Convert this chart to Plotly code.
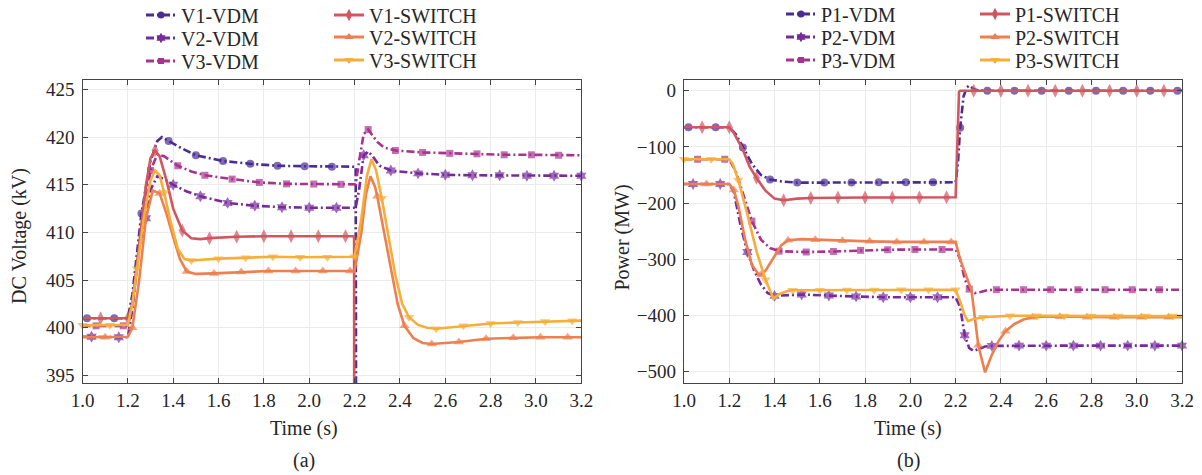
import numpy as np
import plotly.graph_objects as go

# ---------------- data ----------------
# (a) DC voltage, kV
v1_vdm_t = [1.00, 1.02, 1.14, 1.20, 1.22, 1.26, 1.30, 1.33, 1.35, 1.38, 1.44, 1.50, 1.62, 1.74, 1.86, 1.98, 2.10, 2.205, 2.212]
v1_vdm_v = [401.0, 401.0, 401.0, 401.0, 403.5, 412.0, 417.5, 419.6, 420.0, 419.6, 418.8, 418.1, 417.5, 417.2, 417.0, 416.95, 416.9, 416.9, 300.0]

v2_vdm_t = [1.00, 1.04, 1.16, 1.20, 1.22, 1.25, 1.28, 1.30, 1.33, 1.36, 1.40, 1.46, 1.52, 1.64, 1.76, 1.88, 2.00, 2.12, 2.205, 2.22, 2.24, 2.26, 2.28, 2.31, 2.36, 2.48, 2.60, 2.72, 2.84, 2.96, 3.08, 3.20]
v2_vdm_v = [399.05, 399.05, 399.0, 399.0, 402.0, 408.5, 411.5, 414.5, 415.9, 415.6, 415.0, 414.3, 413.8, 413.1, 412.8, 412.65, 412.6, 412.6, 412.6, 414.5, 418.1, 418.5, 418.0, 417.0, 416.5, 416.2, 416.05, 416.0, 416.0, 415.95, 415.95, 415.95]

v3_vdm_t = [1.00, 1.06, 1.18, 1.20, 1.22, 1.26, 1.30, 1.33, 1.36, 1.42, 1.48, 1.54, 1.66, 1.78, 1.90, 2.02, 2.14, 2.205, 2.22, 2.24, 2.26, 2.28, 2.30, 2.33, 2.38, 2.50, 2.62, 2.74, 2.86, 2.98, 3.10, 3.20]
v3_vdm_v = [400.2, 400.2, 400.2, 400.2, 402.5, 410.0, 416.5, 418.2, 418.0, 417.0, 416.4, 416.0, 415.6, 415.25, 415.1, 415.08, 415.05, 415.05, 417.5, 420.3, 420.8, 420.2, 419.5, 418.9, 418.6, 418.4, 418.3, 418.25, 418.15, 418.15, 418.1, 418.1]

v1_sw_t = [1.00, 1.08, 1.20, 1.22, 1.25, 1.28, 1.30, 1.32, 1.34, 1.37, 1.40, 1.44, 1.48, 1.52, 1.56, 1.68, 1.80, 1.92, 2.04, 2.16, 2.198, 2.200]
v1_sw_v = [401.0, 401.0, 401.0, 402.5, 409.0, 415.0, 417.8, 418.6, 418.0, 415.5, 412.5, 410.2, 409.4, 409.3, 409.4, 409.55, 409.6, 409.6, 409.6, 409.6, 409.6, 300.0]

v2_sw_t = [1.00, 1.10, 1.20, 1.22, 1.25, 1.28, 1.31, 1.34, 1.37, 1.40, 1.43, 1.46, 1.50, 1.58, 1.70, 1.82, 1.94, 2.06, 2.18, 2.20, 2.23, 2.25, 2.27, 2.29, 2.30, 2.33, 2.36, 2.39, 2.42, 2.46, 2.50, 2.54, 2.60, 2.66, 2.78, 2.90, 3.02, 3.14, 3.20]
v2_sw_v = [399.0, 399.0, 399.05, 400.0, 405.0, 411.5, 414.4, 414.1, 412.0, 409.5, 407.2, 405.9, 405.65, 405.7, 405.85, 405.95, 405.95, 405.95, 405.95, 405.95, 410.0, 414.0, 415.9, 414.8, 413.8, 410.0, 406.0, 402.5, 400.2, 398.9, 398.4, 398.3, 398.4, 398.5, 398.85, 398.95, 399.0, 399.0, 399.0]

v3_sw_t = [1.00, 1.12, 1.20, 1.22, 1.24, 1.27, 1.30, 1.32, 1.34, 1.36, 1.39, 1.42, 1.45, 1.48, 1.60, 1.72, 1.84, 1.96, 2.08, 2.20, 2.23, 2.255, 2.275, 2.295, 2.32, 2.35, 2.38, 2.41, 2.44, 2.48, 2.52, 2.56, 2.60, 2.68, 2.80, 2.92, 3.04, 3.16, 3.20]
v3_sw_v = [400.25, 400.25, 400.3, 402.5, 406.2, 411.5, 415.5, 416.5, 416.0, 414.2, 411.0, 408.3, 407.2, 407.05, 407.25, 407.35, 407.45, 407.4, 407.4, 407.45, 411.5, 416.0, 417.7, 416.5, 413.6, 409.5, 405.5, 402.5, 401.1, 400.3, 400.0, 399.9, 400.0, 400.2, 400.45, 400.55, 400.65, 400.73, 400.75]

# (b) Power, MW
p1_vdm_t = [1.00, 1.02, 1.14, 1.20, 1.23, 1.26, 1.30, 1.34, 1.38, 1.44, 1.50, 1.62, 1.74, 1.86, 1.98, 2.10, 2.20, 2.21, 2.22, 2.235, 2.25, 2.26, 2.28, 2.30, 2.34, 2.46, 2.58, 2.70, 2.82, 2.94, 3.06, 3.18, 3.20]
p1_vdm_v = [-65, -65, -65, -65, -78, -101, -130, -150, -158, -162, -163.5, -163.5, -163.5, -163, -163, -163, -163, -130, -66, -10, 6, 9, 3, 0.5, 0, 0, 0, 0, 0, 0, 0, 0, 0]

p2_vdm_t = [1.00, 1.04, 1.16, 1.20, 1.22, 1.25, 1.28, 1.31, 1.34, 1.37, 1.40, 1.46, 1.52, 1.64, 1.76, 1.88, 2.00, 2.12, 2.20, 2.22, 2.24, 2.26, 2.28, 2.30, 2.33, 2.36, 2.48, 2.60, 2.72, 2.84, 2.96, 3.08, 3.20]
p2_vdm_v = [-166, -166, -166, -166, -180, -240, -287, -320, -345, -360, -365, -364, -362.5, -364.5, -366, -367.5, -367.5, -367.5, -367.5, -385, -435, -458, -463, -460, -455, -454, -453.5, -453.5, -453.5, -453.5, -453.5, -453.5, -453.5]

p3_vdm_t = [1.00, 1.06, 1.18, 1.20, 1.23, 1.27, 1.30, 1.34, 1.38, 1.42, 1.54, 1.66, 1.78, 1.90, 2.02, 2.14, 2.20, 2.22, 2.24, 2.26, 2.285, 2.31, 2.34, 2.38, 2.50, 2.62, 2.74, 2.86, 2.98, 3.10, 3.20]
p3_vdm_v = [-122, -122, -122, -122, -145, -195, -232, -265, -280, -285.5, -287, -286, -284, -283, -282.5, -282.5, -282.5, -300, -335, -353, -360, -358, -355, -354, -354, -354, -354, -354, -354, -354, -354]

p1_sw_t = [1.00, 1.08, 1.20, 1.22, 1.26, 1.29, 1.32, 1.36, 1.40, 1.44, 1.50, 1.56, 1.68, 1.80, 1.92, 2.04, 2.16, 2.20, 2.215, 2.22, 2.28, 2.40, 2.52, 2.64, 2.76, 2.88, 3.00, 3.12, 3.20]
p1_sw_v = [-65, -65, -65, -75, -105, -135, -155, -178, -192, -195, -192, -191, -190, -190, -190, -190, -189.5, -189.5, -2, 0, 0, 0, 0, 0, 0, 0, 0, 0, 0]

p2_sw_t = [1.00, 1.10, 1.20, 1.22, 1.24, 1.27, 1.30, 1.33, 1.34, 1.36, 1.40, 1.43, 1.46, 1.52, 1.58, 1.70, 1.82, 1.94, 2.06, 2.18, 2.20, 2.22, 2.25, 2.27, 2.30, 2.33, 2.36, 2.39, 2.42, 2.46, 2.50, 2.54, 2.60, 2.66, 2.78, 2.90, 3.02, 3.14, 3.20]
p2_sw_v = [-166, -166, -166, -176.5, -205, -265, -310, -327, -327.5, -320, -295, -275, -266, -264, -265, -267, -268, -269, -269, -269, -269, -300, -335, -355, -453, -501, -470, -445, -428, -415, -407, -403, -401.5, -402, -403, -403, -403, -403, -403]

p3_sw_t = [1.00, 1.12, 1.20, 1.215, 1.24, 1.28, 1.32, 1.36, 1.395, 1.42, 1.46, 1.48, 1.60, 1.72, 1.84, 1.96, 2.08, 2.20, 2.22, 2.24, 2.255, 2.28, 2.32, 2.44, 2.56, 2.68, 2.80, 2.92, 3.04, 3.16, 3.20]
p3_sw_v = [-122, -122, -122, -130, -159, -220, -285, -336.5, -370, -362, -356, -355, -355, -354.5, -354.5, -354, -354, -354, -375, -400, -410, -406, -403, -400.5, -400.5, -401, -401, -401, -401, -401, -401]

x_ticks = [1.0, 1.2, 1.4, 1.6, 1.8, 2.0, 2.2, 2.4, 2.6, 2.8, 3.0, 3.2]
v_ticks = [395, 400, 405, 410, 415, 420, 425]
p_ticks = [-500, -400, -300, -200, -100, 0]

# ---------------- styling ----------------
FONT = "Liberation Serif"
TXT = "#262626"
C_V1 = "#4a2c92"
C_V2 = "#772b9b"
C_V3 = "#a8338e"
C_S1 = "#d0565f"
C_S2 = "#ee7f4f"
C_S3 = "#f6ae3b"
DASHDOT = "8px,3px,2px,3px"
MSTEP = 0.12
W, H = 1202, 475

# legend placement (pixels): legend-box left x, row centre y
series_a = [
    ("V1-VDM", v1_vdm_t, v1_vdm_v, C_V1, DASHDOT, "circle", 1.02, 8, (141, 15)),
    ("V2-VDM", v2_vdm_t, v2_vdm_v, C_V2, DASHDOT, "hexagram", 1.04, 9, (141, 38)),
    ("V3-VDM", v3_vdm_t, v3_vdm_v, C_V3, DASHDOT, "square", 1.06, 7, (141, 61)),
    ("V1-SWITCH", v1_sw_t, v1_sw_v, C_S1, "solid", "diamond-tall", 1.08, 10, (329, 15)),
    ("V2-SWITCH", v2_sw_t, v2_sw_v, C_S2, "solid", "triangle-up", 1.10, 9, (329, 37)),
    ("V3-SWITCH", v3_sw_t, v3_sw_v, C_S3, "solid", "triangle-down", 1.00, 9, (329, 60)),
]
series_b = [
    ("P1-VDM", p1_vdm_t, p1_vdm_v, C_V1, DASHDOT, "circle", 1.02, 8, (781, 14)),
    ("P2-VDM", p2_vdm_t, p2_vdm_v, C_V2, DASHDOT, "hexagram", 1.04, 9, (781, 37)),
    ("P3-VDM", p3_vdm_t, p3_vdm_v, C_V3, DASHDOT, "square", 1.06, 7, (781, 60)),
    ("P1-SWITCH", p1_sw_t, p1_sw_v, C_S1, "solid", "diamond-tall", 1.08, 10, (975, 14)),
    ("P2-SWITCH", p2_sw_t, p2_sw_v, C_S2, "solid", "triangle-up", 1.10, 9, (975, 37)),
    ("P3-SWITCH", p3_sw_t, p3_sw_v, C_S3, "solid", "triangle-down", 1.00, 9, (975, 60)),
]

fig = go.Figure()
legend_layouts = {}


def add_series(spec, xa, ya, idx):
    name, t, v, col, dash, sym, phase, msz, (lx, ly) = spec
    t = np.asarray(t, dtype=float)
    k = (t - phase) / MSTEP
    is_m = (np.abs(k - np.round(k)) < 0.02) & (t >= phase - 1e-9)
    sizes = np.where(is_m, msz, 0)
    fig.add_trace(go.Scatter(
        x=t, y=v, xaxis=xa, yaxis=ya, mode="lines+markers", showlegend=False,
        line=dict(color=col, width=2.6, dash=dash),
        marker=dict(symbol=sym, size=sizes, color=col, line=dict(width=0)),
        cliponaxis=False, hoverinfo="skip"))
    leg = "legend" if idx == 1 else f"legend{idx}"
    fig.add_trace(go.Scatter(
        x=[None], y=[None], xaxis=xa, yaxis=ya, mode="lines+markers", name=name,
        legend=leg, line=dict(color=col, width=3, dash=dash),
        marker=dict(symbol=sym, size=msz - 1, color=col)))
    legend_layouts[leg] = dict(
        x=lx / W, y=1 - ly / H, xanchor="left", yanchor="middle",
        orientation="v", bgcolor="rgba(0,0,0,0)", borderwidth=0,
        font=dict(family=FONT, size=20, color=TXT))


i = 1
for s in series_a:
    add_series(s, "x", "y", i)
    i += 1
for s in series_b:
    add_series(s, "x2", "y2", i)
    i += 1

axis_common = dict(
    showline=True, linecolor="#444444", linewidth=1.4, mirror="ticks",
    ticks="inside", ticklen=5, tickwidth=1.2, tickcolor="#444444",
    showgrid=True, gridcolor="#ebebeb", gridwidth=1, zeroline=False,
    tickfont=dict(family=FONT, size=19, color=TXT),
)
ydom = [(H - 383) / H, (H - 80) / H]
fig.update_layout(
    width=W, height=H, margin=dict(l=0, r=0, t=0, b=0, autoexpand=False),
    paper_bgcolor="white", plot_bgcolor="white",
    font=dict(family=FONT, color=TXT),
    xaxis=dict(domain=[82.5 / W, 581.3 / W], range=[1.0, 3.2], tickvals=x_ticks,
               tickformat=".1f", anchor="y", **axis_common),
    yaxis=dict(domain=ydom, range=[394.2, 426.0], tickvals=v_ticks, anchor="x",
               ticklabelstandoff=3, **axis_common),
    xaxis2=dict(domain=[684 / W, 1182 / W], range=[1.0, 3.2], tickvals=x_ticks,
                tickformat=".1f", anchor="y2", **axis_common),
    yaxis2=dict(domain=ydom, range=[-520, 19], tickvals=p_ticks, anchor="x2",
                ticklabelstandoff=3, **axis_common),
    **legend_layouts,
)

ann = dict(xref="paper", yref="paper", showarrow=False,
           font=dict(family=FONT, size=20, color=TXT), xanchor="center", yanchor="middle")
fig.add_annotation(text="DC Voltage (kV)", x=19 / W, y=1 - 236 / H, textangle=-90, **ann)
fig.add_annotation(text="Power (MW)", x=621.5 / W, y=1 - 238 / H, textangle=-90, **ann)
fig.add_annotation(text="Time (s)", x=304 / W, y=1 - 428 / H, **ann)
fig.add_annotation(text="Time (s)", x=908 / W, y=1 - 428 / H, **ann)
fig.add_annotation(text="(a)", x=304 / W, y=1 - 460 / H, **ann)
fig.add_annotation(text="(b)", x=908 / W, y=1 - 460 / H, **ann)

fig.write_html("out.html")
